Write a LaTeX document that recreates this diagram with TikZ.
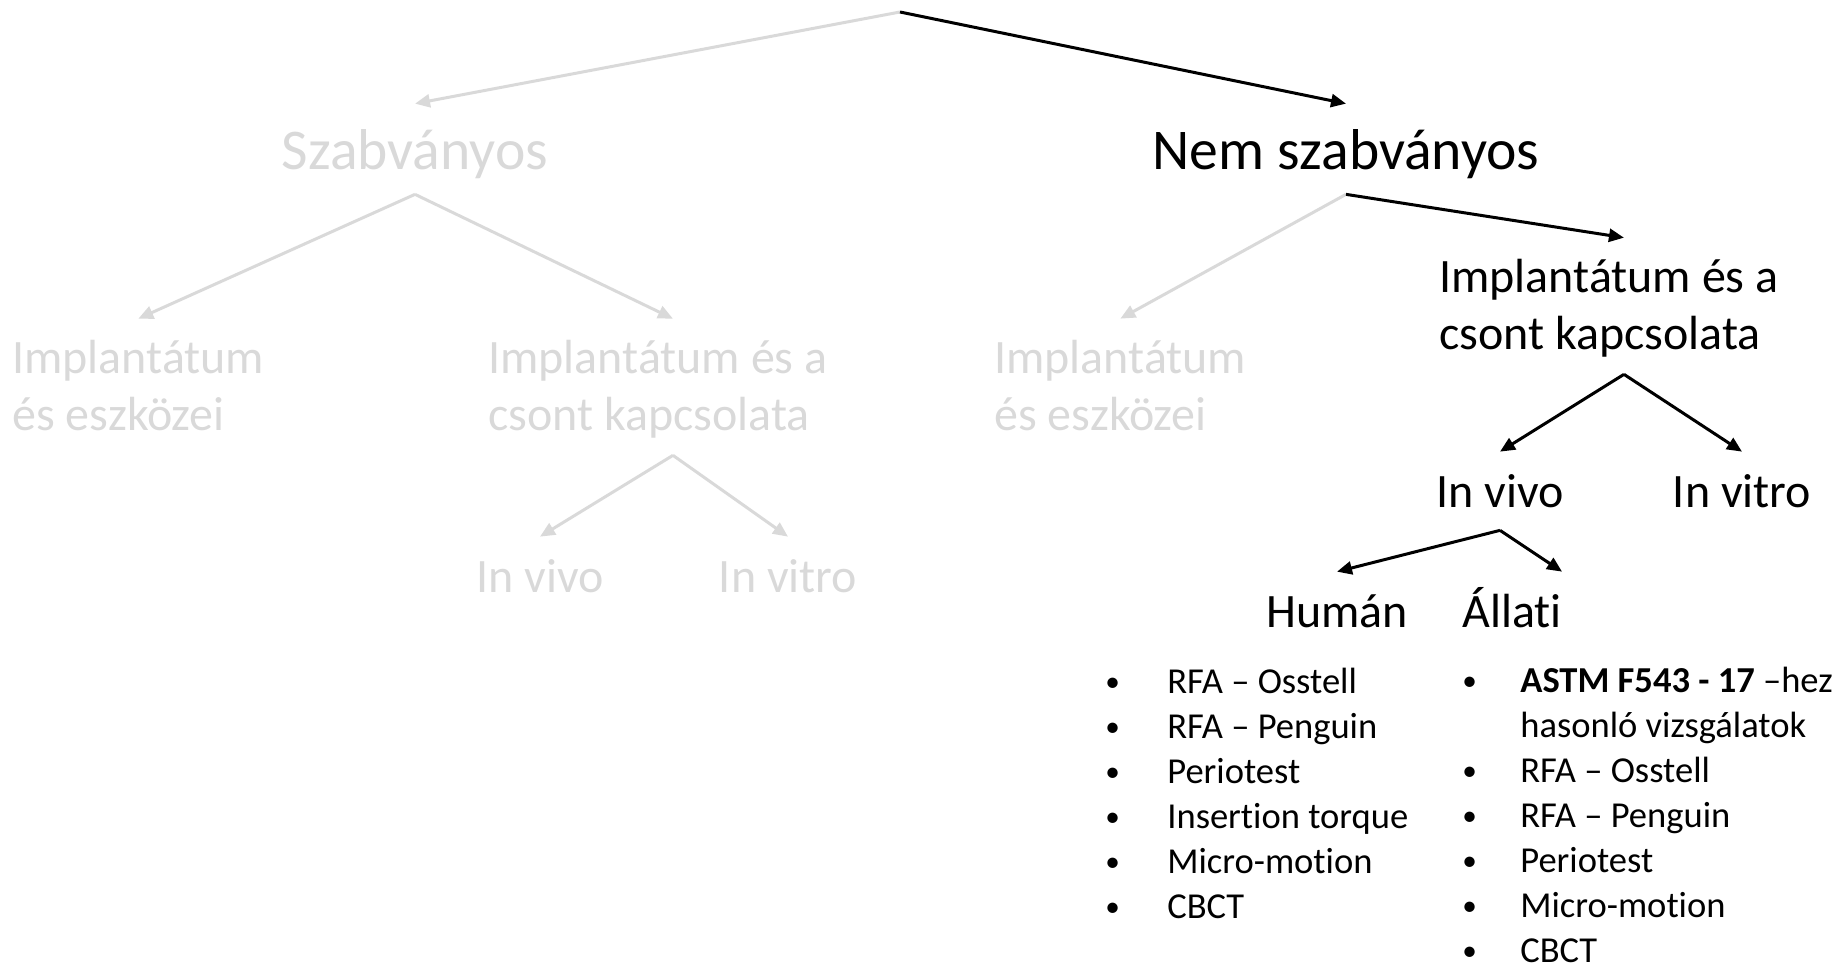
\documentclass[tikz,border=0pt]{standalone}
\usepackage{fontspec}
\setmainfont{Carlito}[Ligatures=NoCommon]
\usetikzlibrary{arrows.meta}
\definecolor{faded}{HTML}{D9D9D9}
\newcommand{\bitem}[2][1.24cm]{\makebox[#1][l]{\raisebox{0.05em}{\scalebox{0.8}{•}}}#2}

\begin{document}
\begin{tikzpicture}[x=0.02cm, y=-0.02cm,
  big/.style={font=\fontsize{32.8pt}{39pt}\selectfont, inner sep=0pt, anchor=base, text height=1.32cm, text depth=0.48cm},
  mid/.style={font=\fontsize{27.3pt}{31.9pt}\selectfont, inner sep=0pt, anchor=base, text height=1.1cm, text depth=0.46cm},
  two/.style={mid, align=left, anchor=base west, text height=2.22cm, text depth=0.5cm},
  list/.style={font=\fontsize{20.8pt}{25.6pt}\selectfont, inner sep=0pt, anchor=base west, align=left},
  link/.style={line width=0.06cm, -{Triangle[length=0.3cm,width=0.26cm]}},
  off/.style={text=faded}]
\useasboundingbox (0,0) rectangle (1845,966);
\coordinate (root) at (900,12);
\node[big,off] (szab) at (415,170) {Szabványos};
\node[big] (nem) at (1346,170) {Nem szabványos};
\node[two,off] (eszk1) at (12,430) {Implantátum\\és eszközei};
\node[two,off] (kapcs1) at (488,430) {Implantátum és a\\csont kapcsolata};
\node[mid,off] (vivo1) at (540,592) {In vivo};
\node[mid,off] (vitro1) at (788,592) {In vitro};
\node[two,off] (eszk2) at (994,430) {Implantátum\\és eszközei};
\node[two] (kapcs2) at (1439,349) {Implantátum és a\\csont kapcsolata};
\node[mid] (vivo2) at (1500,507) {In vivo};
\node[mid] (vitro2) at (1742,507) {In vitro};
\node[mid] (human) at (1337,627) {Humán};
\node[mid] (allati) at (1512,627) {Állati};
\node[list] (hlist) at (1105,918) {\bitem{RFA – Osstell}\\\bitem{RFA – Penguin}\\\bitem{Periotest}\\\bitem{Insertion torque}\\\bitem{Micro-motion}\\\bitem{CBCT}};
\node[list] (alist) at (1462,962) {\bitem[1.16cm]{\textbf{ASTM F543 - 17} –hez}\\\hspace*{1.16cm}hasonló vizsgálatok\\\bitem[1.16cm]{RFA – Osstell}\\\bitem[1.16cm]{RFA – Penguin}\\\bitem[1.16cm]{Periotest}\\\bitem[1.16cm]{Micro-motion}\\\bitem[1.16cm]{CBCT}};
\draw[link,faded] (root) -- (szab.north);
\draw[link,faded] (szab.south) -- (eszk1.north);
\draw[link,faded] (szab.south) -- ([xshift=0.3cm]kapcs1.north);
\draw[link,faded] ([xshift=0.3cm]kapcs1.south) -- (vivo1.north);
\draw[link,faded] ([xshift=0.3cm]kapcs1.south) -- (vitro1.north);
\draw[link,faded] (nem.south) -- (eszk2.north);
\draw[link] (root) -- (nem.north);
\draw[link] (nem.south) -- ([xshift=0.3cm]kapcs2.north);
\draw[link] ([xshift=0.3cm]kapcs2.south) -- (vivo2.north);
\draw[link] ([xshift=0.3cm]kapcs2.south) -- (vitro2.north);
\draw[link] (vivo2.south) -- (human.north);
\draw[link] (vivo2.south) -- (allati.north east);
\end{tikzpicture}
\end{document}
